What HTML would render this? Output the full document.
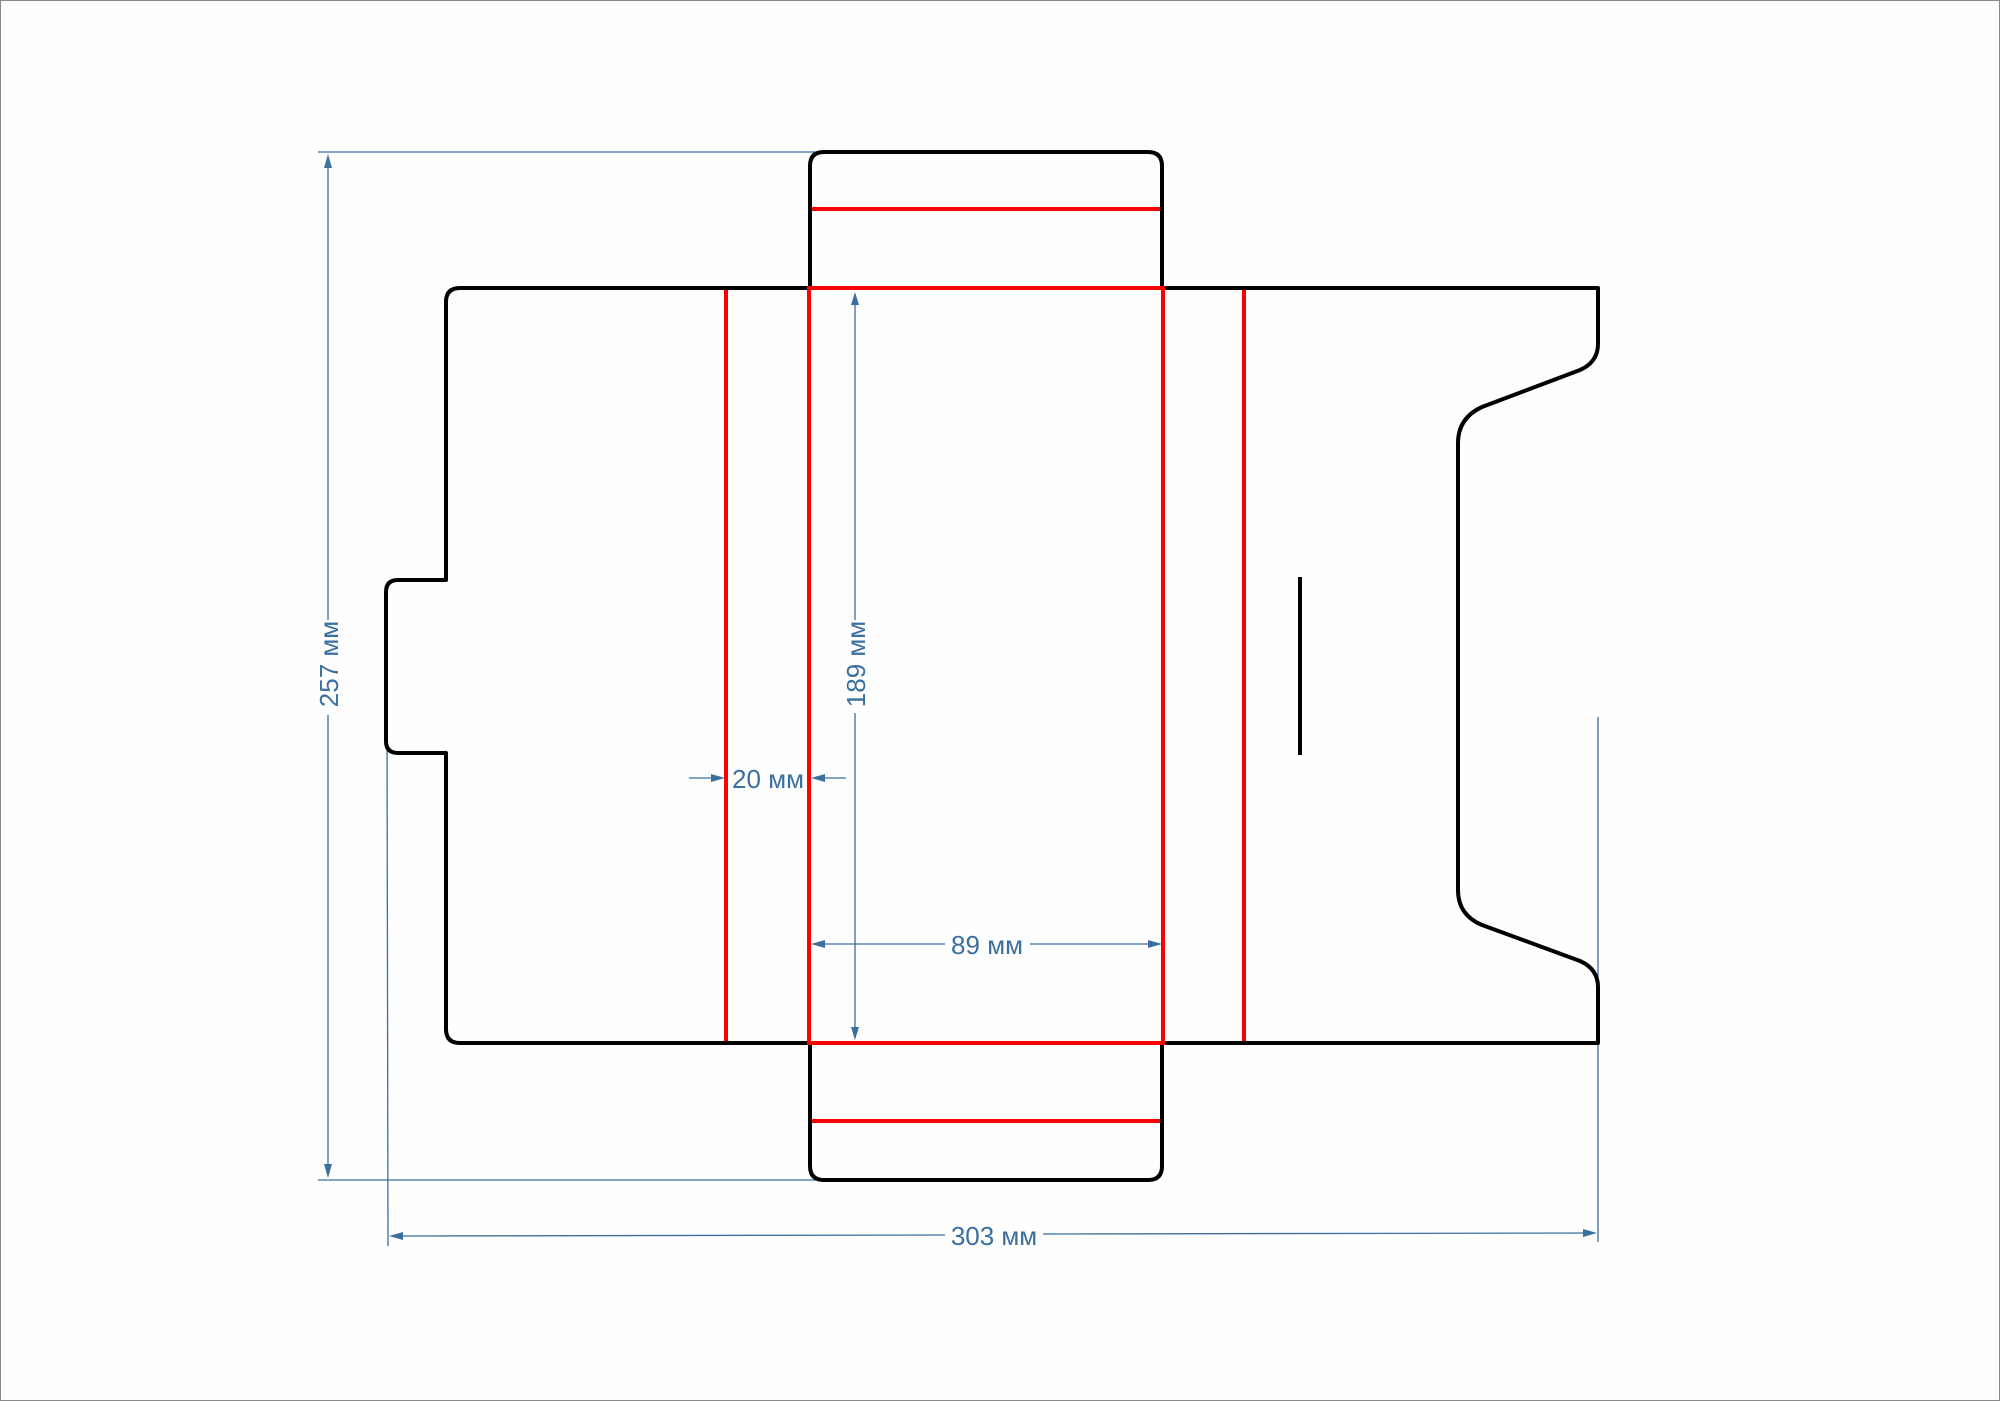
<!DOCTYPE html>
<html><head><meta charset="utf-8"><style>html,body{margin:0;padding:0;background:#fff}svg{display:block}</style></head>
<body>
<svg width="2000" height="1401" viewBox="0 0 2000 1401" xmlns="http://www.w3.org/2000/svg">
<rect x="0.5" y="0.5" width="1999" height="1400" fill="#fefefe" stroke="#888" stroke-width="1"/>
<g stroke="#3a6f9f" stroke-width="1.3" fill="none">
<line x1="318" y1="152" x2="897" y2="152"/>
<line x1="318" y1="1180" x2="897" y2="1180"/>
<line x1="387" y1="721" x2="388" y2="1246"/>
<line x1="1598" y1="717" x2="1598" y2="1242"/>
<line x1="328" y1="158" x2="328" y2="620"/>
<line x1="328" y1="715" x2="328" y2="1174"/>
<line x1="855" y1="297" x2="855" y2="620"/>
<line x1="855" y1="713" x2="855" y2="1035"/>
<line x1="689" y1="778" x2="720" y2="778"/>
<line x1="846" y1="778" x2="816" y2="778"/>
<line x1="815" y1="944" x2="945" y2="944"/>
<line x1="1030" y1="944" x2="1157" y2="944"/>
<line x1="394" y1="1236" x2="945" y2="1235"/>
<line x1="1043" y1="1234" x2="1592" y2="1233"/>
</g>
<g fill="#3a6f9f">
<polygon points="328,154 324,168 332,168"/>
<polygon points="328,1178 324,1164 332,1164"/>
<polygon points="855,292 851,305 859,305"/>
<polygon points="855,1040 851,1027 859,1027"/>
<polygon points="725,778 711,774 711,782"/>
<polygon points="811,778 825,774 825,782"/>
<polygon points="811,944 825,940 825,948"/>
<polygon points="1162,944 1148,940 1148,948"/>
<polygon points="389,1236 403,1232 403,1240"/>
<polygon points="1597,1233 1583,1229 1583,1237"/>
</g>
<g fill="#3a6f9f" font-family="Liberation Sans, sans-serif" font-size="26" text-anchor="middle">
<text x="329" y="664" transform="rotate(-90 329 664)" dominant-baseline="central">257 мм</text>
<text x="856" y="664" transform="rotate(-90 856 664)" dominant-baseline="central">189 мм</text>
<text x="768" y="788">20 мм</text>
<text x="987" y="954">89 мм</text>
<text x="994" y="1245">303 мм</text>
</g>
<g stroke="#000" stroke-width="4" fill="none" stroke-linejoin="round">
<path d="M810,288 L810,166 Q810,152 824,152 L1148,152 Q1162,152 1162,166 L1162,288"/>
<path d="M810,1043 L810,1166 Q810,1180 824,1180 L1148,1180 Q1162,1180 1162,1166 L1162,1043"/>
<path d="M810,288 L460,288 Q446,288 446,302 L446,580 L398,580 Q386,580 386,592 L386,741 Q386,753 398,753 L446,753 L446,1029 Q446,1043 460,1043 L810,1043"/>
<path d="M1162,288 L1598,288 L1598,344 Q1598,362 1580,370 L1482,407 Q1458,418 1458,443 L1458,890 Q1458,915 1482,925 L1580,961 Q1598,969 1598,987 L1598,1043 L1162,1043"/>
<line x1="1300" y1="577" x2="1300" y2="755"/>
</g>
<g stroke="#f00" stroke-width="4" fill="none">
<line x1="812" y1="209" x2="1160" y2="209"/>
<line x1="812" y1="1121" x2="1160" y2="1121"/>
<rect x="809" y="288" width="354" height="755"/>
<line x1="726" y1="290" x2="726" y2="1041"/>
<line x1="1244" y1="290" x2="1244" y2="1041"/>
</g>
</svg>
</body></html>
